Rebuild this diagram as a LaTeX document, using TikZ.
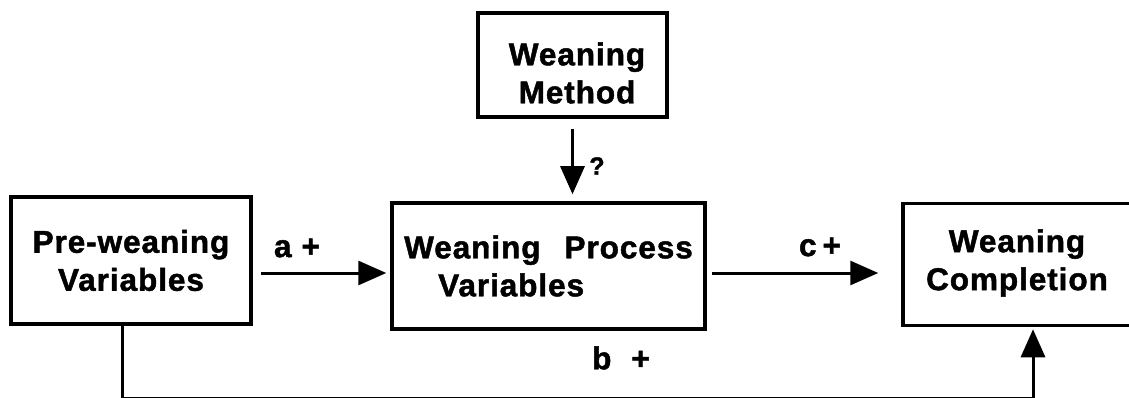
\documentclass[tikz,border=0pt]{standalone}
\usepackage{fontspec}
\setmainfont{Liberation Sans}[BoldFeatures={FakeBold=1.5,LetterSpace=3}]
\usetikzlibrary{arrows.meta}
\begin{document}
\begin{tikzpicture}[x=1pt,y=-1pt,
  box/.style={draw, line width=3.5pt, inner sep=0pt, align=center,
    font=\fontsize{31.5}{38}\selectfont\bfseries},
  txt/.style={inner sep=0pt, align=center, font=\fontsize{31.5}{38}\selectfont\bfseries},
  conn/.style={line width=3pt, -{Triangle[length=28pt,width=24pt]}},
  lbl/.style={inner sep=0pt, font=\fontsize{31.5}{38}\selectfont\bfseries}]
\useasboundingbox (0,0) rectangle (1129,398);
% boxes
\node[box, minimum width=240, minimum height=127] (pre) at (131,260.5) {Pre-weaning\\Variables};
\node[box, align=left, minimum width=313, minimum height=126] (proc) at (548.5,266)
  {Weaning\hspace{24pt}Process\\\hspace*{34pt}Variables};
\node[box, minimum width=234, minimum height=122] (comp) at (1020,264.5) {};
\node[txt] (compT) at (1017,263) {Weaning\\Completion};
\node[box, minimum width=189, minimum height=104] (meth) at (572.5,65) {};
\node[txt] (methT) at (577,73) {Weaning\\Method};
% labels
\node[lbl] (la) at (297,248) {a\hspace{10pt}+};
\node[lbl] (lc) at (820,247) {c\hspace{6pt}+};
\node[lbl] (lb) at (621,358) {b\hspace{20pt}+};
\node[inner sep=0pt, font=\fontsize{25}{30}\selectfont\bfseries] (lq) at (597,166) {?};
% connectors
\draw[conn] ([xshift=8pt,yshift=-12.5pt]pre.east) -- ([xshift=-4pt,yshift=-7pt]proc.west);
\draw[conn] ([xshift=5pt,yshift=-7pt]proc.east) -- ([xshift=-23pt,yshift=-8.5pt]comp.west);
\coordinate (mtop) at ([yshift=-10pt]meth.south);
\draw[conn] (mtop) -- ([yshift=7pt]mtop |- proc.north);
\coordinate (bot) at (0,398);
\coordinate (preleg) at ([xshift=-9pt]pre.south);
\coordinate (compleg) at ([xshift=13pt,yshift=-2pt]comp.south);
\draw[conn] (preleg) -- (preleg |- bot) -- (compleg |- bot) -- (compleg);
\end{tikzpicture}
\end{document}
